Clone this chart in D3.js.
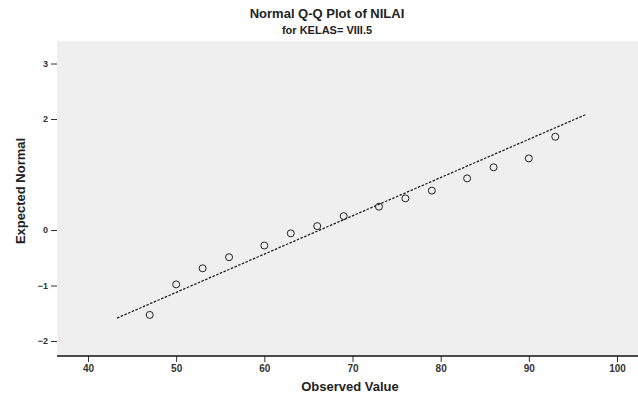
<!DOCTYPE html>
<html>
<head>
<meta charset="utf-8">
<script src="https://cdn.jsdelivr.net/npm/d3@7"></script>
<style>
  html, body { margin: 0; padding: 0; background: #fff; }
  svg { display: block; font-family: "Liberation Sans", Arial, sans-serif; }
</style>
</head>
<body>
<svg id="chart" width="638" height="398"></svg>
<script>
// Observed NILAI values and their expected normal scores
const observed = [47, 50, 53, 56, 60, 63, 66, 69, 73, 76, 79, 83, 86, 90, 93];
const expected = [-1.53, -0.98, -0.69, -0.49, -0.28, -0.06, 0.07, 0.25, 0.42, 0.57, 0.71, 0.93, 1.13, 1.29, 1.68];

// Reference line: z = (x - mean) / sd, drawn over this observed range
const refRange = [43.3, 96.5];
const refMean = 66.3;
const refSd = 14.5;

const xTicks = [40, 50, 60, 70, 80, 90, 100];
const yTicks = [3, 2, 0, -1, -2];

const plot = { left: 57, right: 638, top: 41, bottom: 356 };

const svg = d3.select("#chart");

const x = d3.scaleLinear().domain([40, 100]).range([88, 617]);
const y = d3.scaleLinear().domain([0, 2]).range([230, 119]);

// plot background
svg.append("rect")
  .attr("x", plot.left).attr("y", plot.top)
  .attr("width", plot.right - plot.left).attr("height", plot.bottom - plot.top)
  .attr("fill", "#efefef");

// titles
svg.append("text").attr("x", 327).attr("y", 18)
  .attr("text-anchor", "middle").attr("font-size", 13).attr("font-weight", "bold")
  .attr("fill", "#222").text("Normal Q-Q Plot of NILAI");
svg.append("text").attr("x", 327).attr("y", 34)
  .attr("text-anchor", "middle").attr("font-size", 11).attr("font-weight", "bold")
  .attr("fill", "#222").text("for KELAS= VIII.5");

// x axis
const xAxis = d3.axisBottom(x).tickValues(xTicks).tickSize(6).tickSizeOuter(0).tickPadding(3);
const gx = svg.append("g").attr("transform", `translate(0,${plot.bottom})`).call(xAxis);
gx.select(".domain").remove();
gx.append("line").attr("x1", plot.left).attr("x2", plot.right)
  .attr("stroke", "#111").attr("stroke-width", 1.5);
gx.selectAll(".tick line").attr("stroke", "#333");
gx.selectAll(".tick text").attr("font-size", 10).attr("font-weight", "bold").attr("fill", "#333")
  .attr("font-family", "Liberation Sans, Arial, sans-serif");

// y axis (ticks outside the plot area, no spine)
const yAxis = d3.axisLeft(y).tickValues(yTicks).tickFormat(d3.format("d"))
  .tickSize(6).tickSizeOuter(0).tickPadding(3);
const gy = svg.append("g").attr("transform", `translate(${plot.left},0)`).call(yAxis);
gy.select(".domain").remove();
gy.selectAll(".tick line").attr("stroke", "#333");
gy.selectAll(".tick text").attr("font-size", 9).attr("font-weight", "bold").attr("fill", "#333")
  .attr("font-family", "Liberation Sans, Arial, sans-serif");

// axis titles
svg.append("text").attr("x", 350).attr("y", 391)
  .attr("text-anchor", "middle").attr("font-size", 13).attr("font-weight", "bold")
  .attr("fill", "#222").text("Observed Value");
svg.append("text")
  .attr("transform", `translate(25,191) rotate(-90)`)
  .attr("text-anchor", "middle").attr("font-size", 13).attr("font-weight", "bold")
  .attr("fill", "#222").text("Expected Normal");

// reference line
const lineGen = d3.line().x(d => x(d)).y(d => y((d - refMean) / refSd));
svg.append("path").datum(refRange)
  .attr("d", lineGen)
  .attr("fill", "none").attr("stroke", "#222").attr("stroke-width", 1.3)
  .attr("stroke-dasharray", "2.5,1.5");

// points
svg.append("g").selectAll("circle")
  .data(observed.map((v, i) => [v, expected[i]]))
  .join("circle")
  .attr("cx", d => x(d[0])).attr("cy", d => y(d[1]))
  .attr("r", 3.5).attr("fill", "none").attr("stroke", "#222").attr("stroke-width", 1);
</script>
</body>
</html>
